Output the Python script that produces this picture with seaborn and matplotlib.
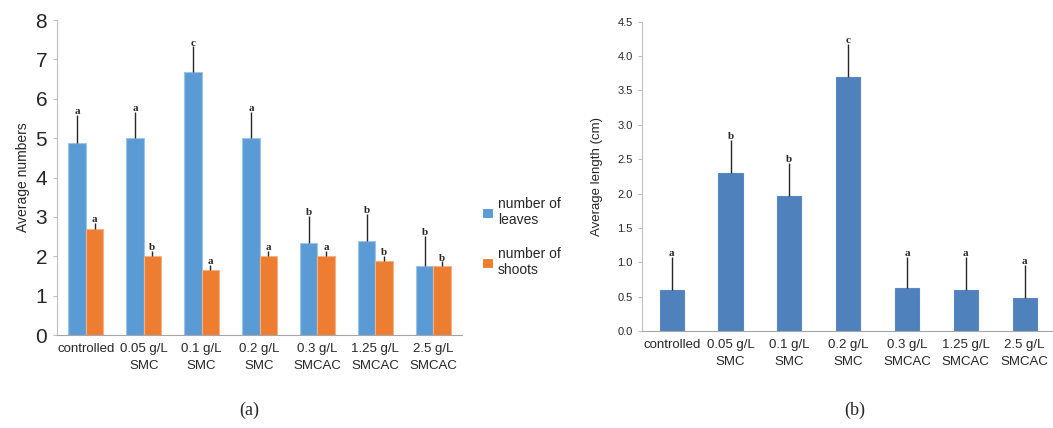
"""Leaves/shoots counts and length by treatment, two-panel bar chart."""

import matplotlib
matplotlib.use("Agg")
import matplotlib.pyplot as plt
import pandas as pd
import seaborn as sns

TREATMENTS = [
    "controlled", "0.05 g/L\nSMC", "0.1 g/L\nSMC", "0.2 g/L\nSMC",
    "0.3 g/L\nSMCAC", "1.25 g/L\nSMCAC", "2.5 g/L\nSMCAC",
]

# panel (a)
LEAVES = [4.88, 5.0, 6.68, 5.0, 2.35, 2.39, 1.75]
LEAVES_ERR = [0.70, 0.67, 0.65, 0.67, 0.68, 0.68, 0.77]
LEAVES_LETTERS = ["a", "a", "c", "a", "b", "b", "b"]
SHOOTS = [2.70, 2.0, 1.66, 2.0, 2.0, 1.88, 1.75]
SHOOTS_ERR = [0.15, 0.14, 0.13, 0.13, 0.13, 0.12, 0.12]
SHOOTS_LETTERS = ["a", "b", "a", "a", "a", "b", "b"]

# panel (b)
LENGTH = [0.60, 2.30, 1.96, 3.70, 0.62, 0.60, 0.485]
LENGTH_ERR = [0.48, 0.48, 0.48, 0.48, 0.46, 0.48, 0.475]
LENGTH_LETTERS = ["a", "b", "b", "c", "a", "a", "a"]

SERIES = ["number of\nleaves", "number of\nshoots"]
COLORS = ["#5B9BD5", "#ED7D31"]
EDGES = ["#9DC3E6", "#F4B183"]

sns.set_style("white")
plt.rcParams["font.family"] = ["Liberation Sans", "DejaVu Sans"]
NARROW = ["Liberation Sans Narrow", "Liberation Sans", "DejaVu Sans"]
SERIF = ["Liberation Serif", "DejaVu Serif"]


def add_errors(ax, container, errs, letters):
    """Upper-only error bars plus significance letters on each bar."""
    for bar, err, letter in zip(container.patches, errs, letters):
        x = bar.get_x() + bar.get_width() / 2
        h = bar.get_height()
        ax.errorbar(x, h, yerr=[[0], [err]], fmt="none", ecolor="#262626",
                    elinewidth=1.0, capsize=0)
        ax.annotate(letter, (x, h + err), xytext=(0, 2.5), textcoords="offset points",
                    ha="center", va="center", fontsize=8, fontweight="bold",
                    family=SERIF)


def style_axis(ax):
    ax.set_xlim(-0.5, 6.5)
    ax.set_xlabel("")
    ax.spines["top"].set_visible(False)
    ax.spines["right"].set_visible(False)
    ax.spines["left"].set_color("#BFBFBF")
    ax.spines["bottom"].set_color("#A6A6A6")
    ax.set_xticks([i - 0.5 for i in range(8)], minor=True)
    ax.tick_params(axis="x", which="major", length=0, pad=6)
    ax.tick_params(axis="x", which="minor", length=5, color="#A6A6A6", direction="out")
    ax.tick_params(axis="y", length=3, color="#BFBFBF", direction="out", left=True)
    for lab in ax.get_xticklabels():
        lab.set_family(NARROW)
        lab.set_fontsize(9.5)
        lab.set_linespacing(1.5)


fig = plt.figure(figsize=(10.53, 4.28), dpi=100)
ax1 = fig.add_axes([0.054, 0.217, 0.385, 0.736])
ax2 = fig.add_axes([0.610, 0.227, 0.391, 0.722])

# ---- (a) ----
df_a = pd.DataFrame({
    "treatment": TREATMENTS * 2,
    "series": [SERIES[0]] * 7 + [SERIES[1]] * 7,
    "value": LEAVES + SHOOTS,
})
sns.barplot(data=df_a, x="treatment", y="value", hue="series", hue_order=SERIES,
            palette=COLORS, saturation=1, width=0.6, errorbar=None, ax=ax1,
            linewidth=0.8)
for cont, edge in zip(ax1.containers, EDGES):
    for bar in cont.patches:
        bar.set_edgecolor(edge)
add_errors(ax1, ax1.containers[0], LEAVES_ERR, LEAVES_LETTERS)
add_errors(ax1, ax1.containers[1], SHOOTS_ERR, SHOOTS_LETTERS)
ax1.set_ylim(0, 8)
ax1.set_yticks(range(0, 9))
ax1.tick_params(axis="y", labelsize=15, pad=4)
ax1.set_ylabel("Average numbers", fontsize=10, labelpad=4)
style_axis(ax1)
for lab in ax1.get_yticklabels():
    lab.set_family(NARROW)

handles, labels = ax1.get_legend_handles_labels()
ax1.legend(handles, labels, loc="center left", bbox_to_anchor=(0.446, 0.446),
           bbox_transform=fig.transFigure, frameon=False, fontsize=10,
           handlelength=0.75, handleheight=0.75, handletextpad=0.4,
           labelspacing=1.4)

# ---- (b) ----
df_b = pd.DataFrame({"treatment": TREATMENTS, "length": LENGTH})
sns.barplot(data=df_b, x="treatment", y="length", color="#4F81BD", saturation=1,
            width=0.41, errorbar=None, ax=ax2, edgecolor="#5A87C0", linewidth=0.8)
add_errors(ax2, ax2.containers[0], LENGTH_ERR, LENGTH_LETTERS)
ax2.set_ylim(0, 4.5)
ax2.set_yticks([i * 0.5 for i in range(10)])
ax2.set_yticklabels([f"{i * 0.5:.1f}" for i in range(10)])
ax2.tick_params(axis="y", labelsize=8, pad=4)
ax2.set_ylabel("Average length (cm)", fontsize=9.5, labelpad=10)
style_axis(ax2)

# captions
fig.text(0.237, 0.042, "(a)", ha="center", va="center", fontsize=13, family=SERIF)
fig.text(0.812, 0.042, "(b)", ha="center", va="center", fontsize=13, family=SERIF)

fig.savefig("out.png", dpi=100)
